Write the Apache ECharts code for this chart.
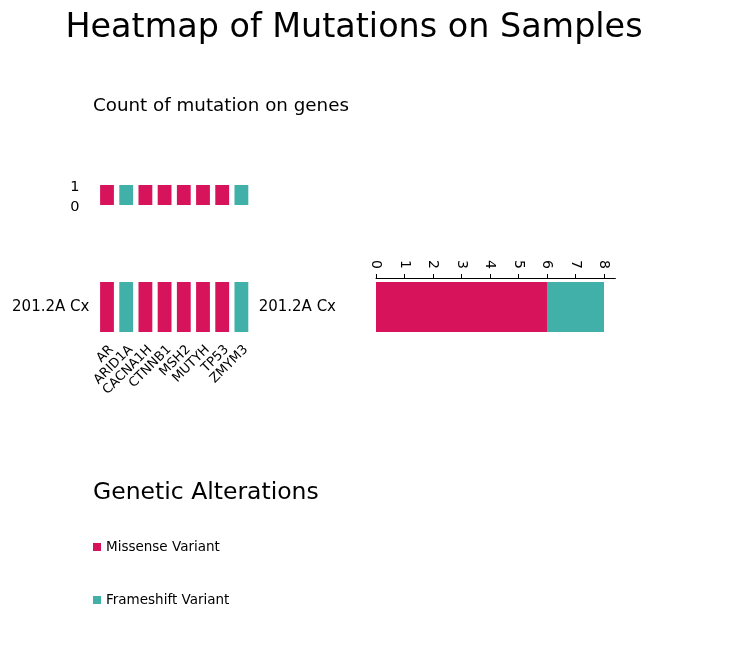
<!DOCTYPE html>
<html>
<head>
<meta charset="utf-8">
<script src="https://cdn.jsdelivr.net/npm/echarts@6/dist/echarts.min.js"></script>
<style>
html,body{margin:0;padding:0;background:#fff;}
#chart{width:734px;height:668px;}
</style>
</head>
<body>
<div id="chart"></div>
<script>
const genes = ['AR','ARID1A','CACNA1H','CTNNB1','MSH2','MUTYH','TP53','ZMYM3'];
const geneTypes = ['Missense Variant','Frameshift Variant','Missense Variant','Missense Variant','Missense Variant','Missense Variant','Missense Variant','Frameshift Variant'];
const geneCounts = [1,1,1,1,1,1,1,1];
const samples = ['201.2A Cx'];
const missenseCounts = [6];
const frameshiftCounts = [2];
const countTicks = [0,1,2,3,4,5,6,7,8];
const typeColors = {'Missense Variant':'#D7135B','Frameshift Variant':'#41B0A8'};

const FONT = 'DejaVu Sans';

const topBarData = genes.map((g,i)=>({value: geneCounts[i], itemStyle:{color: typeColors[geneTypes[i]]}}));
const heatData = [];
samples.forEach((s,si)=>{
  genes.forEach((g,gi)=>{
    heatData.push({value:[gi, si], itemStyle:{color: typeColors[geneTypes[gi]]}});
  });
});

const chart = echarts.init(document.getElementById('chart'));
chart.setOption({
  animation:false,
  backgroundColor:'#fff',
  textStyle:{fontFamily:FONT, color:'#000'},
  title:[
    {text:'Heatmap of Mutations on Samples', left:354, top:12, textAlign:'center', padding:0,
     textStyle:{fontFamily:FONT, fontSize:33.4, fontWeight:'normal', color:'#000'}},
    {text:'Count of mutation on genes', left:93, top:97, padding:0,
     textStyle:{fontFamily:FONT, fontSize:18.3, fontWeight:'normal', color:'#000'}},
    {text:'Genetic Alterations', left:93, top:481, padding:0,
     textStyle:{fontFamily:FONT, fontSize:23.5, fontWeight:'normal', color:'#000'}}
  ],
  legend:{
    data:['Missense Variant','Frameshift Variant'],
    orient:'vertical', left:93, top:540, padding:0, icon:'rect', itemWidth:8, itemHeight:8, itemGap:39,
    textStyle:{fontFamily:FONT, fontSize:13.5, color:'#000'}, selectedMode:false
  },
  grid:[
    {left:97.4, top:185, width:153.6, height:20},
    {left:97.4, top:282, width:153.6, height:50},
    {left:376, top:282, width:239.4, height:50}
  ],
  xAxis:[
    {gridIndex:0, type:'category', data:genes, axisLine:{show:false}, axisTick:{show:false}, axisLabel:{show:false}},
    {gridIndex:1, type:'category', data:genes, axisLine:{show:false}, axisTick:{show:false},
     axisLabel:{rotate:45, fontSize:13, margin:11, verticalAlign:'top', color:'#000', fontFamily:FONT, interval:0}},
    {gridIndex:2, type:'value', position:'top', offset:4, min:0, max:8.4, splitLine:{show:false},
     axisLine:{show:true, lineStyle:{color:'#000', width:1}},
     axisTick:{show:true, length:4, lineStyle:{color:'#000'}, customValues:countTicks},
     axisLabel:{rotate:90, fontSize:14, margin:9, color:'#000', fontFamily:FONT, customValues:countTicks}}
  ],
  yAxis:[
    {gridIndex:0, type:'value', min:0, max:1, interval:1, splitLine:{show:false},
     axisLine:{show:false}, axisTick:{show:false},
     axisLabel:{margin:18, formatter:function(v){return '{v|'+v+'}';},
       rich:{v:{fontSize:14.5, padding:[4,0,0,0], color:'#000', fontFamily:FONT}}}},
    {gridIndex:1, type:'category', data:samples, axisLine:{show:false}, axisTick:{show:false},
     axisLabel:{fontSize:15, margin:8, color:'#000', fontFamily:FONT}},
    {gridIndex:2, type:'category', data:samples, axisLine:{show:false}, axisTick:{show:false},
     axisLabel:{fontSize:15, margin:40, color:'#000', fontFamily:FONT}}
  ],
  series:[
    {type:'bar', xAxisIndex:0, yAxisIndex:0, data:topBarData, barWidth:'72%'},
    {type:'custom', xAxisIndex:1, yAxisIndex:1, data:heatData,
     renderItem:function(params, api){
       const c = api.coord([api.value(0), api.value(1)]);
       const s = api.size([1,1]);
       const w = s[0]*0.72, h = s[1];
       return {type:'rect', shape:{x:c[0]-w/2, y:c[1]-h/2, width:w, height:h},
               style:{fill: api.visual('color')}};
     }},
    {name:'Missense Variant', type:'bar', stack:'t', xAxisIndex:2, yAxisIndex:2, data:missenseCounts,
     barWidth:'100%', itemStyle:{color:typeColors['Missense Variant']}},
    {name:'Frameshift Variant', type:'bar', stack:'t', xAxisIndex:2, yAxisIndex:2, data:frameshiftCounts,
     barWidth:'100%', itemStyle:{color:typeColors['Frameshift Variant']}}
  ]
});
</script>
</body>
</html>
